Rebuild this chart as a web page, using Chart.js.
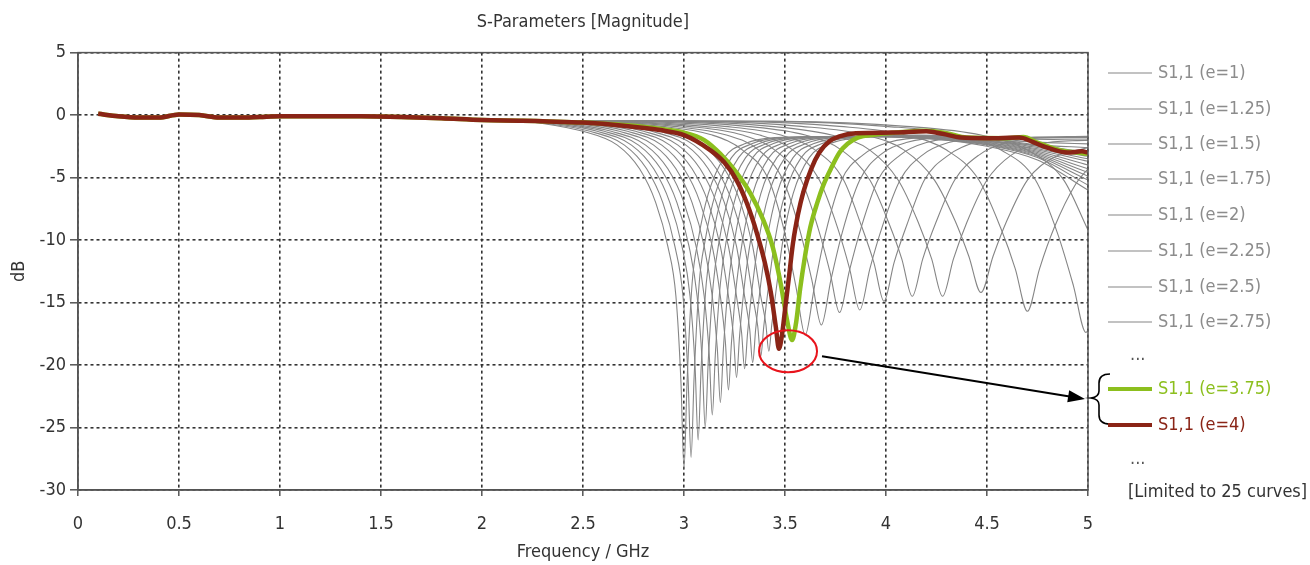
<!DOCTYPE html>
<html><head><meta charset="utf-8">
<script src="https://cdn.jsdelivr.net/npm/chart.js@4.4.1/dist/chart.umd.min.js"></script>
<style>html,body{margin:0;padding:0;background:#fff;}#wrap{width:1310px;height:565px;}</style>
</head><body><div id="wrap"><canvas id="c" width="1310" height="565"></canvas></div>
<script>
const FONT = '"Liberation Sans Narrow","DejaVu Sans Condensed","Liberation Sans",sans-serif';

// ---- data (frequency GHz, S11 dB) ----
const baseFreq = [0.1,0.2,0.3,0.4,0.5,0.6,0.7,0.8,0.9,1.0,1.2,1.4,1.6,1.8,2.0,2.2];
const baseDb   = [0.1,-0.1,-0.2,-0.2,0.05,0.0,-0.2,-0.2,-0.15,-0.1,-0.1,-0.1,-0.15,-0.25,-0.4,-0.45];

const s11_e4 = [[2.3,-0.5],[2.5,-0.6],[2.7,-0.85],[2.88,-1.2],[3.0,-1.6],[3.13,-2.8],[3.2,-3.8],[3.26,-5.2],[3.31,-7.0],[3.36,-9.4],[3.4,-11.8],[3.43,-14.2],[3.455,-17.0],[3.47,-18.7],[3.485,-17.6],[3.5,-15.6],[3.52,-12.9],[3.54,-10.2],[3.565,-7.9],[3.59,-6.2],[3.63,-4.3],[3.67,-3.0],[3.72,-2.1],[3.77,-1.7],[3.85,-1.45],[4.03,-1.4],[4.2,-1.3],[4.28,-1.5],[4.37,-1.8],[4.5,-1.85],[4.66,-1.8],[4.72,-2.1],[4.78,-2.5],[4.9,-3.0],[4.97,-2.9],[5.0,-3.0]];
const s11_e375 = [[2.3,-0.5],[2.5,-0.6],[2.7,-0.8],[2.88,-1.1],[3.0,-1.4],[3.1,-2.0],[3.18,-3.1],[3.26,-4.6],[3.33,-6.3],[3.39,-8.3],[3.44,-10.6],[3.48,-13.6],[3.51,-16.4],[3.535,-18.0],[3.555,-16.6],[3.575,-13.9],[3.6,-11.2],[3.625,-9.0],[3.66,-7.0],[3.69,-5.6],[3.73,-4.2],[3.77,-3.0],[3.81,-2.3],[3.86,-1.8],[3.95,-1.55],[4.05,-1.4],[4.2,-1.25],[4.3,-1.45],[4.4,-1.8],[4.6,-1.85],[4.68,-1.75],[4.75,-2.2],[4.86,-2.8],[4.95,-3.0],[5.0,-3.1]];

const s11_e7    = [[2.25,-0.55],[2.5,-1.3],[2.67,-2.4],[2.78,-4.3],[2.86,-7.0],[2.92,-10.5],[2.96,-14.5],[2.985,-21.4],[3.0,-28.3],[3.015,-21.4],[3.04,-13.5],[3.07,-10.0],[3.12,-6.3],[3.2,-3.4],[3.3,-2.3],[3.45,-1.8],[3.9,-1.7],[4.3,-2.0],[4.5,-2.5],[4.75,-3.6],[5.0,-6.0]];
const s11_e675  = [[2.285,-0.6],[2.535,-1.3],[2.705,-2.4],[2.815,-4.3],[2.895,-7.0],[2.955,-10.5],[2.995,-14.5],[3.02,-21.0],[3.035,-27.4],[3.05,-21.0],[3.075,-13.5],[3.105,-10.0],[3.155,-6.3],[3.235,-3.4],[3.335,-2.3],[3.485,-1.8],[3.9,-1.7],[4.3,-2.0],[4.5,-2.4],[4.75,-3.4],[5.0,-5.6]];
const s11_e65   = [[2.32,-0.6],[2.57,-1.3],[2.74,-2.4],[2.85,-4.3],[2.93,-7.0],[2.99,-10.5],[3.03,-14.5],[3.055,-20.2],[3.07,-26.0],[3.085,-20.2],[3.11,-13.5],[3.14,-10.0],[3.19,-6.3],[3.27,-3.4],[3.37,-2.3],[3.52,-1.8],[3.95,-1.7],[4.3,-1.95],[4.5,-2.35],[4.75,-3.3],[5.0,-5.2]];
const s11_e625  = [[2.355,-0.6],[2.605,-1.3],[2.775,-2.4],[2.885,-4.3],[2.965,-7.0],[3.025,-10.5],[3.065,-14.5],[3.09,-19.7],[3.105,-25.0],[3.12,-19.7],[3.145,-13.5],[3.175,-10.0],[3.225,-6.3],[3.305,-3.4],[3.405,-2.3],[3.555,-1.8],[3.95,-1.7],[4.3,-1.9],[4.5,-2.3],[4.75,-3.2],[5.0,-4.9]];
const s11_e6    = [[2.39,-0.6],[2.64,-1.3],[2.81,-2.4],[2.92,-4.3],[3.0,-7.0],[3.06,-10.5],[3.1,-14.5],[3.125,-19.2],[3.14,-24.0],[3.155,-19.2],[3.18,-13.5],[3.21,-10.0],[3.26,-6.3],[3.34,-3.4],[3.44,-2.3],[3.59,-1.8],[4.0,-1.7],[4.3,-1.9],[4.5,-2.25],[4.75,-3.1],[5.0,-4.6]];
const s11_e575  = [[2.43,-0.6],[2.68,-1.3],[2.85,-2.4],[2.96,-4.3],[3.04,-7.0],[3.1,-10.5],[3.14,-14.5],[3.165,-18.7],[3.18,-23.0],[3.195,-18.7],[3.22,-13.5],[3.25,-10.0],[3.3,-6.3],[3.38,-3.4],[3.48,-2.3],[3.63,-1.8],[4.0,-1.7],[4.3,-1.85],[4.5,-2.2],[4.75,-3.0],[5.0,-4.3]];
const s11_e55   = [[2.47,-0.6],[2.72,-1.3],[2.89,-2.4],[3.0,-4.3],[3.08,-7.0],[3.14,-10.5],[3.18,-14.5],[3.205,-18.2],[3.22,-22.0],[3.235,-18.2],[3.26,-13.5],[3.29,-10.0],[3.34,-6.3],[3.42,-3.4],[3.52,-2.3],[3.67,-1.8],[4.05,-1.7],[4.3,-1.85],[4.5,-2.15],[4.75,-2.9],[5.0,-4.0]];
const s11_e525  = [[2.51,-0.6],[2.76,-1.3],[2.93,-2.4],[3.04,-4.3],[3.12,-7.0],[3.18,-10.5],[3.22,-14.5],[3.245,-17.7],[3.26,-21.0],[3.275,-17.7],[3.3,-13.5],[3.33,-10.0],[3.38,-6.3],[3.46,-3.4],[3.56,-2.3],[3.71,-1.8],[4.05,-1.7],[4.3,-1.8],[4.5,-2.1],[4.75,-2.8],[5.0,-3.7]];
const s11_e5    = [[2.55,-0.6],[2.8,-1.3],[2.97,-2.4],[3.08,-4.3],[3.16,-7.0],[3.22,-10.5],[3.26,-14.5],[3.285,-17.4],[3.3,-20.3],[3.315,-17.4],[3.34,-13.5],[3.37,-10.0],[3.42,-6.3],[3.5,-3.4],[3.6,-2.3],[3.75,-1.8],[4.1,-1.7],[4.3,-1.8],[4.5,-2.05],[4.75,-2.7],[5.0,-3.5]];
const s11_e475  = [[2.59,-0.6],[2.84,-1.3],[3.01,-2.4],[3.12,-4.3],[3.2,-7.0],[3.26,-10.5],[3.3,-14.5],[3.325,-17.1],[3.34,-19.8],[3.355,-17.1],[3.38,-13.5],[3.41,-10.0],[3.46,-6.3],[3.54,-3.4],[3.64,-2.3],[3.79,-1.8],[4.1,-1.65],[4.3,-1.75],[4.5,-2.0],[4.75,-2.6],[5.0,-3.3]];
const s11_e45   = [[2.63,-0.6],[2.88,-1.3],[3.05,-2.4],[3.16,-4.3],[3.24,-7.0],[3.3,-10.5],[3.34,-14.5],[3.365,-16.9],[3.38,-19.3],[3.395,-16.9],[3.42,-13.5],[3.45,-10.0],[3.5,-6.3],[3.58,-3.4],[3.68,-2.3],[3.83,-1.8],[4.15,-1.65],[4.35,-1.75],[4.55,-2.0],[4.75,-2.5],[5.0,-3.1]];
const s11_e425  = [[2.67,-0.6],[2.92,-1.3],[3.09,-2.4],[3.2,-4.3],[3.28,-7.0],[3.34,-10.5],[3.38,-14.5],[3.405,-16.7],[3.42,-18.9],[3.435,-16.7],[3.46,-13.5],[3.49,-10.0],[3.54,-6.3],[3.62,-3.4],[3.72,-2.3],[3.87,-1.8],[4.15,-1.6],[4.35,-1.7],[4.55,-1.95],[4.75,-2.4],[5.0,-3.0]];
const s11_e35   = [[2.48,-0.5],[2.89,-0.9],[3.14,-1.6],[3.29,-2.8],[3.42,-5.2],[3.5,-9.5],[3.555,-13.8],[3.6,-17.6],[3.645,-13.8],[3.7,-9.5],[3.78,-5.2],[3.885,-3.2],[4.01,-2.2],[4.21,-1.8],[4.5,-2.1],[4.75,-2.4],[5.0,-2.6]];
const s11_e325  = [[2.54,-0.5],[2.95,-0.9],[3.21,-1.6],[3.37,-2.8],[3.49,-5.2],[3.575,-9.3],[3.633,-13.2],[3.68,-16.8],[3.727,-13.2],[3.785,-9.3],[3.87,-5.2],[3.97,-3.2],[4.1,-2.2],[4.3,-1.8],[4.55,-2.0],[4.8,-2.2],[5.0,-2.3]];
const s11_e3    = [[2.59,-0.5],[3.02,-0.9],[3.29,-1.6],[3.45,-2.8],[3.58,-5.2],[3.663,-9.0],[3.722,-12.5],[3.77,-15.8],[3.818,-12.5],[3.877,-9.0],[3.96,-5.2],[4.07,-3.2],[4.2,-2.2],[4.41,-1.8],[4.65,-1.9],[5.0,-2.0]];
const s11_e275  = [[2.66,-0.5],[3.1,-0.9],[3.375,-1.6],[3.54,-2.8],[3.67,-5.2],[3.76,-9.0],[3.82,-12.3],[3.87,-15.6],[3.92,-12.3],[3.98,-9.0],[4.07,-5.2],[4.18,-3.2],[4.31,-2.2],[4.53,-1.8],[4.8,-1.8],[5.0,-1.8]];
const s11_e25   = [[2.75,-0.5],[3.2,-0.9],[3.48,-1.6],[3.65,-2.8],[3.79,-5.2],[3.877,-8.8],[3.94,-11.8],[3.99,-14.9],[4.04,-11.8],[4.103,-8.8],[4.19,-5.2],[4.31,-3.2],[4.44,-2.2],[4.67,-1.8],[5.0,-1.7]];
const s11_e225  = [[2.84,-0.5],[3.31,-0.9],[3.6,-1.6],[3.78,-2.8],[3.92,-5.2],[4.013,-8.6],[4.078,-11.5],[4.13,-14.5],[4.182,-11.5],[4.247,-8.6],[4.34,-5.2],[4.46,-3.2],[4.6,-2.2],[4.83,-1.8],[5.0,-1.8]];
const s11_e2    = [[2.95,-0.5],[3.43,-0.9],[3.73,-1.6],[3.92,-2.8],[4.06,-5.2],[4.16,-8.6],[4.226,-11.5],[4.28,-14.5],[4.334,-11.5],[4.4,-8.6],[4.5,-5.2],[4.62,-3.2],[4.76,-2.3],[5.0,-2.0]];
const s11_e175  = [[3.07,-0.5],[3.58,-0.9],[3.9,-1.6],[4.09,-2.8],[4.24,-5.2],[4.343,-8.5],[4.41,-11.3],[4.47,-14.2],[4.53,-11.3],[4.597,-8.5],[4.7,-5.2],[4.83,-3.4],[5.0,-2.6]];
const s11_e15   = [[3.24,-0.5],[3.77,-0.9],[4.1,-1.6],[4.3,-2.8],[4.46,-5.2],[4.567,-9.0],[4.64,-12.3],[4.7,-15.7],[4.76,-12.3],[4.833,-9.0],[4.94,-5.5],[5.0,-4.3]];
const s11_e125  = [[3.44,-0.5],[4.0,-0.9],[4.36,-1.6],[4.57,-2.8],[4.74,-5.2],[4.85,-9.5],[4.927,-13.6],[4.99,-17.4],[5.0,-17.2]];
const s11_e1    = [[3.5,-0.5],[4.1,-0.9],[4.47,-1.6],[4.7,-2.8],[4.88,-5.2],[5.0,-9.2]];

const grayCurves = [s11_e1,s11_e125,s11_e15,s11_e175,s11_e2,s11_e225,s11_e25,s11_e275,s11_e3,s11_e325,s11_e35,
  s11_e425,s11_e45,s11_e475,s11_e5,s11_e525,s11_e55,s11_e575,s11_e6,s11_e625,s11_e65,s11_e675,s11_e7];

const legendLabels = ['S1,1 (e=1)','S1,1 (e=1.25)','S1,1 (e=1.5)','S1,1 (e=1.75)','S1,1 (e=2)','S1,1 (e=2.25)','S1,1 (e=2.5)','S1,1 (e=2.75)','...','S1,1 (e=3.75)','S1,1 (e=4)','...','[Limited to 25 curves]'];

// ---- build ----
const GRAY = '#858585', GREEN = '#8cbf1e', RED = '#8a2416';
function toPoints(curve) {
  const pts = baseFreq.map((f, i) => ({x: f, y: baseDb[i]}));
  curve.forEach(p => pts.push({x: p[0], y: p[1]}));
  return pts;
}
const lineDefaults = {pointRadius: 0, fill: false, cubicInterpolationMode: 'monotone'};
const datasets = [
  Object.assign({label: 'S1,1 (e=4)', data: toPoints(s11_e4), borderColor: RED, borderWidth: 4.5}, lineDefaults),
  Object.assign({label: 'S1,1 (e=3.75)', data: toPoints(s11_e375), borderColor: GREEN, borderWidth: 4.5}, lineDefaults)
];
grayCurves.forEach(c => datasets.push(Object.assign({label: 'S1,1', data: toPoints(c), borderColor: GRAY, borderWidth: 1.1}, lineDefaults)));

const overlay = {
  id: 'overlay',
  afterDraw(chart) {
    const {ctx, chartArea: a, scales: {x, y}} = chart;
    ctx.save();
    ctx.setLineDash([]);
    ctx.strokeStyle = '#555'; ctx.lineWidth = 1.5;
    ctx.strokeRect(a.left, a.top, a.right - a.left, a.bottom - a.top);

    // red ellipse around the two minima
    const ex = x.getPixelForValue(3.515), ey = y.getPixelForValue(-18.9);
    ctx.strokeStyle = '#e8141c'; ctx.lineWidth = 2;
    ctx.beginPath(); ctx.ellipse(ex, ey, 29, 21, 0, 0, Math.PI * 2); ctx.stroke();

    // arrow
    const sx = ex + 34, sy = ey + 5, tx = 1085, ty = 399;
    const ang = Math.atan2(ty - sy, tx - sx);
    ctx.strokeStyle = '#000'; ctx.fillStyle = '#000'; ctx.lineWidth = 2;
    ctx.beginPath(); ctx.moveTo(sx, sy); ctx.lineTo(tx - 14 * Math.cos(ang), ty - 14 * Math.sin(ang)); ctx.stroke();
    ctx.beginPath();
    ctx.moveTo(tx, ty);
    ctx.lineTo(tx - 17 * Math.cos(ang) + 6 * Math.sin(ang), ty - 17 * Math.sin(ang) - 6 * Math.cos(ang));
    ctx.lineTo(tx - 17 * Math.cos(ang) - 6 * Math.sin(ang), ty - 17 * Math.sin(ang) + 6 * Math.cos(ang));
    ctx.closePath(); ctx.fill();

    // brace
    ctx.lineWidth = 1.6;
    ctx.beginPath();
    ctx.moveTo(1110, 374);
    ctx.quadraticCurveTo(1099, 374, 1099, 383);
    ctx.lineTo(1099, 391);
    ctx.quadraticCurveTo(1099, 397, 1091, 398);
    ctx.quadraticCurveTo(1099, 399, 1099, 405);
    ctx.lineTo(1099, 415);
    ctx.quadraticCurveTo(1099, 424, 1110, 424);
    ctx.stroke();

    // legend
    const rows = [73,109,144,179,215,251,287,322,355,389,425,459,492];
    ctx.font = '18px ' + FONT; ctx.textBaseline = 'middle'; ctx.textAlign = 'left';
    legendLabels.forEach((t, i) => {
      const ry = rows[i];
      if (t === '...') { ctx.fillStyle = '#555'; ctx.fillText(t, 1130, ry); return; }
      if (t.startsWith('[')) { ctx.fillStyle = '#333'; ctx.fillText(t, 1128, ry); return; }
      let col = GRAY, lw = 1.2, tc = '#8c8c8c';
      if (t.indexOf('3.75') >= 0) { col = GREEN; lw = 4; tc = GREEN; }
      else if (t.indexOf('e=4') >= 0) { col = RED; lw = 4; tc = RED; }
      ctx.strokeStyle = col; ctx.lineWidth = lw;
      ctx.beginPath(); ctx.moveTo(1108, ry); ctx.lineTo(1152, ry); ctx.stroke();
      ctx.fillStyle = tc; ctx.fillText(t, 1158, ry);
    });
    ctx.restore();
  }
};

Chart.defaults.font.family = FONT;
new Chart(document.getElementById('c'), {
  type: 'line',
  data: {datasets},
  options: {
    responsive: false, animation: false, devicePixelRatio: 1,
    layout: {padding: {left: 0, right: 222, top: 0, bottom: 0}},
    plugins: {
      legend: {display: false}, tooltip: {enabled: false},
      title: {display: true, fullSize: false, text: 'S-Parameters [Magnitude]', color: '#333', font: {size: 18, weight: 'normal'}, padding: {top: 12, bottom: 19}}
    },
    scales: {
      x: {
        type: 'linear', min: 0, max: 5,
        ticks: {stepSize: 0.5, autoSkip: false, maxRotation: 0, padding: 18, color: '#333', font: {size: 18},
          callback: v => String(Math.round(v * 10) / 10)},
        grid: {color: '#333', lineWidth: 1.6, tickLength: 6, tickColor: '#555', tickWidth: 1.5},
        border: {display: true, color: '#555', width: 1.5, dash: [3, 3]},
        title: {display: true, text: 'Frequency / GHz', color: '#333', font: {size: 18}, padding: {top: 0, bottom: 2}},
        afterFit(s) { s.height = 75; }
      },
      y: {
        type: 'linear', min: -30, max: 5,
        ticks: {stepSize: 5, padding: 4, color: '#333', font: {size: 18}},
        grid: {color: '#333', lineWidth: 1.6, tickLength: 8, tickColor: '#555', tickWidth: 1.5},
        border: {display: true, color: '#555', width: 1.5, dash: [3, 3]},
        title: {display: true, text: 'dB', color: '#333', font: {size: 18}, padding: {top: 9, bottom: 0}},
        afterFit(s) { s.width = 78; }
      }
    }
  },
  plugins: [overlay]
});
</script></body></html>
